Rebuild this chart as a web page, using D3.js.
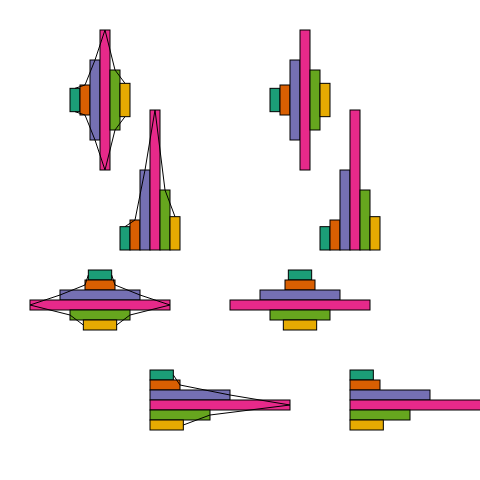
<!DOCTYPE html>
<html>
<head>
<meta charset="utf-8">
<script src="https://cdn.jsdelivr.net/npm/d3@7"></script>
<style>
  html, body { margin: 0; padding: 0; background: #fff; }
  svg { display: block; }
</style>
</head>
<body>
<svg id="chart" width="480" height="480"></svg>
<script>
// ---- data ----
const categories = ["A", "B", "C", "D", "E", "F"];
const values = [7, 9, 24, 42, 18, 10];
const colors = ["#1b9e77", "#d95f02", "#7570b3", "#e7298a", "#66a61e", "#e6ab02"];

const data = categories.map((c, i) => ({ c, v: values[i], color: colors[i] }));

const svg = d3.select("#chart");

const band = d3.scaleBand().domain(categories).range([0, 60]).padding(0);
const len = d3.scaleLinear().domain([0, d3.max(values)]).range([0, 140]);
const color = d3.scaleOrdinal().domain(categories).range(colors);
const bw = band.bandwidth();

function panel(tx, ty, orient, align, withLine) {
  const g = svg.append("g").attr("transform", `translate(${tx},${ty})`);
  const rects = g.selectAll("rect").data(data).join("rect")
    .attr("fill", d => color(d.c))
    .attr("stroke", "#000")
    .attr("stroke-width", 1);
  const line = d3.line();
  const paths = [];
  if (orient === "v") {
    rects.attr("x", d => band(d.c)).attr("width", bw)
      .attr("height", d => len(d.v))
      .attr("y", d => align === "center" ? -len(d.v) / 2 : -len(d.v));
    if (align === "center") {
      paths.push(data.map(d => [band(d.c) + bw / 2, -len(d.v) / 2]));
      paths.push(data.map(d => [band(d.c) + bw / 2, len(d.v) / 2]));
    } else {
      paths.push(data.map(d => [band(d.c) + bw / 2, -len(d.v)]));
    }
  } else {
    rects.attr("y", d => band(d.c)).attr("height", bw)
      .attr("width", d => len(d.v))
      .attr("x", d => align === "center" ? -len(d.v) / 2 : 0);
    if (align === "center") {
      paths.push(data.map(d => [-len(d.v) / 2, band(d.c) + bw / 2]));
      paths.push(data.map(d => [len(d.v) / 2, band(d.c) + bw / 2]));
    } else {
      paths.push(data.map(d => [len(d.v), band(d.c) + bw / 2]));
    }
  }
  if (withLine) {
    paths.forEach(p => g.append("path").attr("d", line(p))
      .attr("fill", "none").attr("stroke", "#000").attr("stroke-width", 1));
  }
}

const cols = [{ dx: 0, line: true }, { dx: 200, line: false }];
cols.forEach(col => {
  panel(70 + col.dx, 100, "v", "center", col.line);
  panel(120 + col.dx, 250, "v", "base", col.line);
  panel(100 + col.dx, 270, "h", "center", col.line);
  panel(150 + col.dx, 370, "h", "base", col.line);
});
</script>
</body>
</html>
